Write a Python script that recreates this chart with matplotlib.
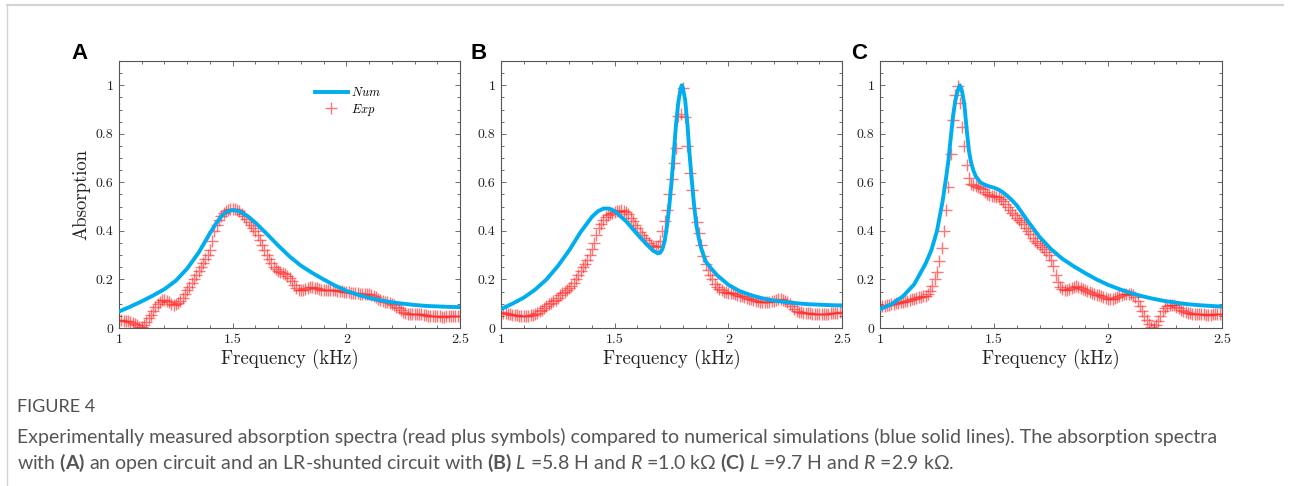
import matplotlib
matplotlib.use("Agg")
import matplotlib.pyplot as plt
import numpy as np
from matplotlib.lines import Line2D
from matplotlib.ticker import MultipleLocator, FuncFormatter

plt.rcParams.update({
    "font.family": ["cmr10", "DejaVu Serif"],
    "axes.formatter.use_mathtext": True,
    "mathtext.fontset": "custom",
    "mathtext.rm": "Lato",
    "mathtext.bf": "Lato:bold",
    "mathtext.it": "Lato:italic",
})

# ── data ────────────────────────────────────────────────────────────────────
# experimental points share one frequency grid (1.00 ... 2.50 kHz, step 0.01)
freq_exp = np.round(np.linspace(1.0, 2.5, 151), 2)

exp_a = [
    0.035, 0.032, 0.030, 0.030, 0.028, 0.025, 0.022, 0.018, 0.012, 0.006,  # 1.00
    0.004, 0.012, 0.025, 0.040, 0.055, 0.070, 0.085, 0.098, 0.108, 0.115,  # 1.10
    0.116, 0.113, 0.108, 0.100, 0.096, 0.097, 0.103, 0.112, 0.125, 0.140,  # 1.20
    0.155, 0.170, 0.185, 0.200, 0.218, 0.235, 0.252, 0.268, 0.283, 0.300,  # 1.30
    0.320, 0.360, 0.400, 0.425, 0.445, 0.460, 0.472, 0.480, 0.486, 0.490,  # 1.40
    0.492, 0.492, 0.488, 0.480, 0.470, 0.460, 0.448, 0.436, 0.424, 0.412,  # 1.50
    0.398, 0.382, 0.362, 0.342, 0.322, 0.302, 0.285, 0.268, 0.252, 0.242,  # 1.60
    0.236, 0.232, 0.228, 0.222, 0.215, 0.205, 0.192, 0.178, 0.165, 0.158,  # 1.70
    0.155, 0.156, 0.160, 0.165, 0.168, 0.168, 0.166, 0.163, 0.160, 0.158,  # 1.80
    0.158, 0.158, 0.157, 0.156, 0.155, 0.155, 0.154, 0.153, 0.152, 0.150,  # 1.90
    0.148, 0.147, 0.146, 0.145, 0.144, 0.143, 0.142, 0.142, 0.142, 0.141,  # 2.00
    0.140, 0.137, 0.132, 0.126, 0.120, 0.115, 0.112, 0.109, 0.106, 0.103,  # 2.10
    0.100, 0.095, 0.088, 0.081, 0.073, 0.066, 0.061, 0.059, 0.058, 0.058,  # 2.20
    0.058, 0.058, 0.057, 0.056, 0.054, 0.052, 0.050, 0.049, 0.048, 0.048,  # 2.30
    0.048, 0.048, 0.047, 0.047, 0.048, 0.049, 0.050, 0.050, 0.050, 0.050,  # 2.40
    0.050,                                                                 # 2.50
]

exp_b = [
    0.065, 0.062, 0.060, 0.058, 0.056, 0.055, 0.053, 0.052, 0.050, 0.049,
    0.048, 0.048, 0.050, 0.052, 0.055, 0.058, 0.062, 0.068, 0.075, 0.082,
    0.090, 0.097, 0.104, 0.110, 0.117, 0.125, 0.134, 0.143, 0.150, 0.157,
    0.164, 0.172, 0.185, 0.202, 0.220, 0.236, 0.250, 0.265, 0.282, 0.300,
    0.325, 0.352, 0.385, 0.410, 0.430, 0.445, 0.456, 0.465, 0.470, 0.474,
    0.477, 0.480, 0.483, 0.485, 0.484, 0.478, 0.468, 0.455, 0.440, 0.425,
    0.410, 0.395, 0.382, 0.370, 0.362, 0.352, 0.342, 0.336, 0.333, 0.338,
    0.360, 0.400, 0.440, 0.485, 0.550, 0.615, 0.680, 0.740, 0.875, 0.880,
    0.990, 0.870, 0.750, 0.640, 0.570, 0.495, 0.435, 0.390, 0.340, 0.295,
    0.262, 0.240, 0.220, 0.200, 0.180, 0.170, 0.162, 0.155, 0.150, 0.148,
    0.146, 0.145, 0.143, 0.140, 0.137, 0.133, 0.130, 0.127, 0.123, 0.120,
    0.118, 0.115, 0.112, 0.110, 0.108, 0.106, 0.106, 0.107, 0.108, 0.110,
    0.113, 0.116, 0.118, 0.118, 0.116, 0.113, 0.108, 0.100, 0.090, 0.080,
    0.072, 0.067, 0.064, 0.062, 0.061, 0.060, 0.060, 0.059, 0.058, 0.058,
    0.058, 0.058, 0.058, 0.058, 0.059, 0.060, 0.061, 0.062, 0.063, 0.064,
    0.065,
]

exp_c = [
    0.088, 0.090, 0.092, 0.094, 0.096, 0.098, 0.100, 0.102, 0.104, 0.106,
    0.108, 0.110, 0.112, 0.115, 0.118, 0.121, 0.124, 0.127, 0.129, 0.130,
    0.132, 0.140, 0.152, 0.175, 0.200, 0.232, 0.275, 0.330, 0.400, 0.485,
    0.580, 0.715, 0.855, 0.960, 0.995, 0.925, 0.830, 0.750, 0.672, 0.620,
    0.595, 0.588, 0.585, 0.582, 0.578, 0.572, 0.562, 0.552, 0.546, 0.543,
    0.542, 0.541, 0.538, 0.532, 0.522, 0.510, 0.497, 0.485, 0.474, 0.464,
    0.455, 0.446, 0.437, 0.427, 0.414, 0.400, 0.386, 0.372, 0.360, 0.350,
    0.340, 0.333, 0.325, 0.315, 0.300, 0.280, 0.255, 0.220, 0.188, 0.168,
    0.160, 0.157, 0.158, 0.162, 0.166, 0.170, 0.171, 0.170, 0.166, 0.161,
    0.157, 0.153, 0.149, 0.145, 0.141, 0.137, 0.134, 0.130, 0.126, 0.123,
    0.121, 0.120, 0.121, 0.123, 0.127, 0.132, 0.136, 0.139, 0.141, 0.142,
    0.140, 0.135, 0.126, 0.110, 0.090, 0.070, 0.050, 0.032, 0.016, 0.005,
    0.002, 0.012, 0.030, 0.050, 0.068, 0.082, 0.090, 0.094, 0.095, 0.093,
    0.088, 0.082, 0.076, 0.070, 0.066, 0.063, 0.060, 0.059, 0.058, 0.057,
    0.057, 0.056, 0.056, 0.055, 0.055, 0.055, 0.056, 0.056, 0.057, 0.058,
    0.058,
]

# numerical curves (read at unequal steps, denser around the sharp peaks)
freq_num_a = [1.00, 1.05, 1.10, 1.15, 1.20, 1.25, 1.30, 1.35, 1.40, 1.425,
              1.45, 1.475, 1.50, 1.525, 1.55, 1.575, 1.60, 1.65, 1.70, 1.75,
              1.80, 1.85, 1.90, 1.95, 2.00, 2.05, 2.10, 2.15, 2.20, 2.25,
              2.30, 2.35, 2.40, 2.45, 2.50]
num_a = [0.068, 0.088, 0.110, 0.134, 0.160, 0.195, 0.245, 0.310, 0.390, 0.428,
         0.460, 0.480, 0.486, 0.482, 0.470, 0.454, 0.434, 0.388, 0.340, 0.295,
         0.257, 0.227, 0.200, 0.175, 0.153, 0.137, 0.124, 0.114, 0.106, 0.100,
         0.095, 0.091, 0.089, 0.087, 0.086]

freq_num_b = [1.00, 1.05, 1.10, 1.15, 1.20, 1.25, 1.30, 1.35, 1.40, 1.425,
              1.45, 1.475, 1.50, 1.55, 1.60, 1.65, 1.67, 1.69, 1.70, 1.71,
              1.72, 1.73, 1.74, 1.75, 1.76, 1.77, 1.78, 1.79, 1.795, 1.80,
              1.81, 1.82, 1.83, 1.84, 1.85, 1.86, 1.87, 1.88, 1.90, 1.925,
              1.95, 2.00, 2.05, 2.10, 2.15, 2.20, 2.25, 2.30, 2.35, 2.40,
              2.45, 2.50]
num_b = [0.078, 0.100, 0.125, 0.158, 0.200, 0.255, 0.320, 0.395, 0.458, 0.480,
         0.492, 0.492, 0.482, 0.440, 0.386, 0.336, 0.318, 0.308, 0.310, 0.325,
         0.360, 0.420, 0.500, 0.600, 0.720, 0.840, 0.930, 0.985, 1.000, 0.990,
         0.940, 0.840, 0.710, 0.600, 0.500, 0.420, 0.370, 0.330, 0.275, 0.245,
         0.218, 0.178, 0.152, 0.135, 0.122, 0.113, 0.107, 0.102, 0.098, 0.096,
         0.094, 0.093]

freq_num_c = [1.00, 1.05, 1.10, 1.15, 1.20, 1.225, 1.25, 1.275, 1.29, 1.30,
              1.31, 1.32, 1.33, 1.34, 1.35, 1.36, 1.37, 1.38, 1.39, 1.40,
              1.41, 1.42, 1.44, 1.46, 1.48, 1.50, 1.52, 1.54, 1.56, 1.58,
              1.60, 1.65, 1.70, 1.75, 1.80, 1.85, 1.90, 1.95, 2.00, 2.05,
              2.10, 2.15, 2.20, 2.25, 2.30, 2.35, 2.40, 2.45, 2.50]
num_c = [0.077, 0.098, 0.130, 0.180, 0.265, 0.320, 0.400, 0.525, 0.620, 0.690,
         0.780, 0.870, 0.935, 0.975, 1.000, 0.975, 0.920, 0.820, 0.730, 0.680,
         0.648, 0.625, 0.600, 0.590, 0.583, 0.578, 0.570, 0.558, 0.543, 0.525,
         0.505, 0.438, 0.375, 0.325, 0.285, 0.254, 0.226, 0.200, 0.178, 0.160,
         0.144, 0.131, 0.120, 0.111, 0.104, 0.098, 0.094, 0.091, 0.088]

panel_letters = ["A", "B", "C"]
x_ticks = [1, 1.5, 2, 2.5]
y_ticks = [0, 0.2, 0.4, 0.6, 0.8, 1]

BLUE = "#00aeef"
RED = "#ff2a2a"
FRAME = "#555555"

fig = plt.figure(figsize=(12.9, 4.86), dpi=100)

panel_boxes = [
    (119, 341),
    (501, 341),
    (880, 342),
]
letter_x = [71, 471, 851]
num_sets = [(freq_num_a, num_a), (freq_num_b, num_b), (freq_num_c, num_c)]
exp_sets = [exp_a, exp_b, exp_c]

W, H = 1290, 486
for i, (left, width) in enumerate(panel_boxes):
    ax = fig.add_axes([left / W, 1 - 328 / H, width / W, 267 / H])
    fn, nv = num_sets[i]
    ax.plot(freq_exp, exp_sets[i], ls="none", marker="+", ms=9, mew=1.0,
            color=RED, alpha=0.65, label="$Exp$", zorder=2)
    ax.plot(fn, nv, color=BLUE, lw=2.8, label="$Num$", zorder=3,
            solid_joinstyle="round")

    ax.set_xlim(1, 2.5)
    ax.set_ylim(0, 1.1)
    ax.set_xticks(x_ticks)
    ax.set_yticks(y_ticks)
    ax.xaxis.set_minor_locator(MultipleLocator(0.1))
    ax.yaxis.set_minor_locator(MultipleLocator(0.05))
    fmt = FuncFormatter(lambda v, p: f"{v:g}")
    ax.xaxis.set_major_formatter(fmt)
    ax.yaxis.set_major_formatter(fmt)
    ax.tick_params(which="both", direction="in", top=True, right=True,
                   colors=FRAME, labelcolor="#222222", labelsize=10, width=0.6)
    ax.tick_params(which="major", length=3.5, pad=4)
    ax.tick_params(which="minor", length=2)
    for s in ax.spines.values():
        s.set_color(FRAME)
        s.set_linewidth(0.8)
    ax.set_xlabel("Frequency (kHz)", fontsize=13.5, labelpad=2, color="#222222")
    if i == 0:
        ax.set_ylabel("Absorption", fontsize=13.5, labelpad=4, color="#222222")
        h, l = ax.get_legend_handles_labels()
        leg = ax.legend(h[::-1], l[::-1], loc="upper left",
                        bbox_to_anchor=(0.575, 0.905), frameon=False,
                        borderpad=0, borderaxespad=0, handlelength=2.6,
                        handletextpad=0.25, labelspacing=0.2,
                        prop={"size": 9, "math_fontfamily": "cm"})
    fig.text(letter_x[i] / W, 1 - 59 / H, panel_letters[i], fontsize=16,
             fontweight="bold", family=["Liberation Sans", "DejaVu Sans"],
             ha="left", va="baseline")

# page frame lines
fig.add_artist(Line2D([7 / W, 1283 / W], [1 - 5 / H, 1 - 5 / H],
                      color="#d4d4d4", lw=1.6))
fig.add_artist(Line2D([7 / W, 7 / W], [1 - 5 / H, 0], color="#d4d4d4", lw=1.0))

# caption
cap_font = ["Lato", "DejaVu Sans"]
fig.text(17 / W, 1 - 407 / H, "FIGURE 4", fontsize=13, color="#505050",
         family=cap_font, va="center", ha="left")
fig.text(17 / W, 1 - 437 / H,
         "Experimentally measured absorption spectra (read plus symbols) compared to "
         "numerical simulations (blue solid lines). The absorption spectra",
         fontsize=14, color="#555555", family=cap_font, va="center", ha="left")
fig.text(17 / W, 1 - 463 / H,
         r"with $\mathbf{(A)}$ an open circuit and an LR-shunted circuit with "
         r"$\mathbf{(B)}$ $\mathit{L}$ =5.8 H and $\mathit{R}$ =1.0 kΩ "
         r"$\mathbf{(C)}$ $\mathit{L}$ =9.7 H and $\mathit{R}$ =2.9 kΩ.",
         fontsize=14, color="#555555", family=cap_font, va="center", ha="left")

fig.savefig("out.png", dpi=100)
